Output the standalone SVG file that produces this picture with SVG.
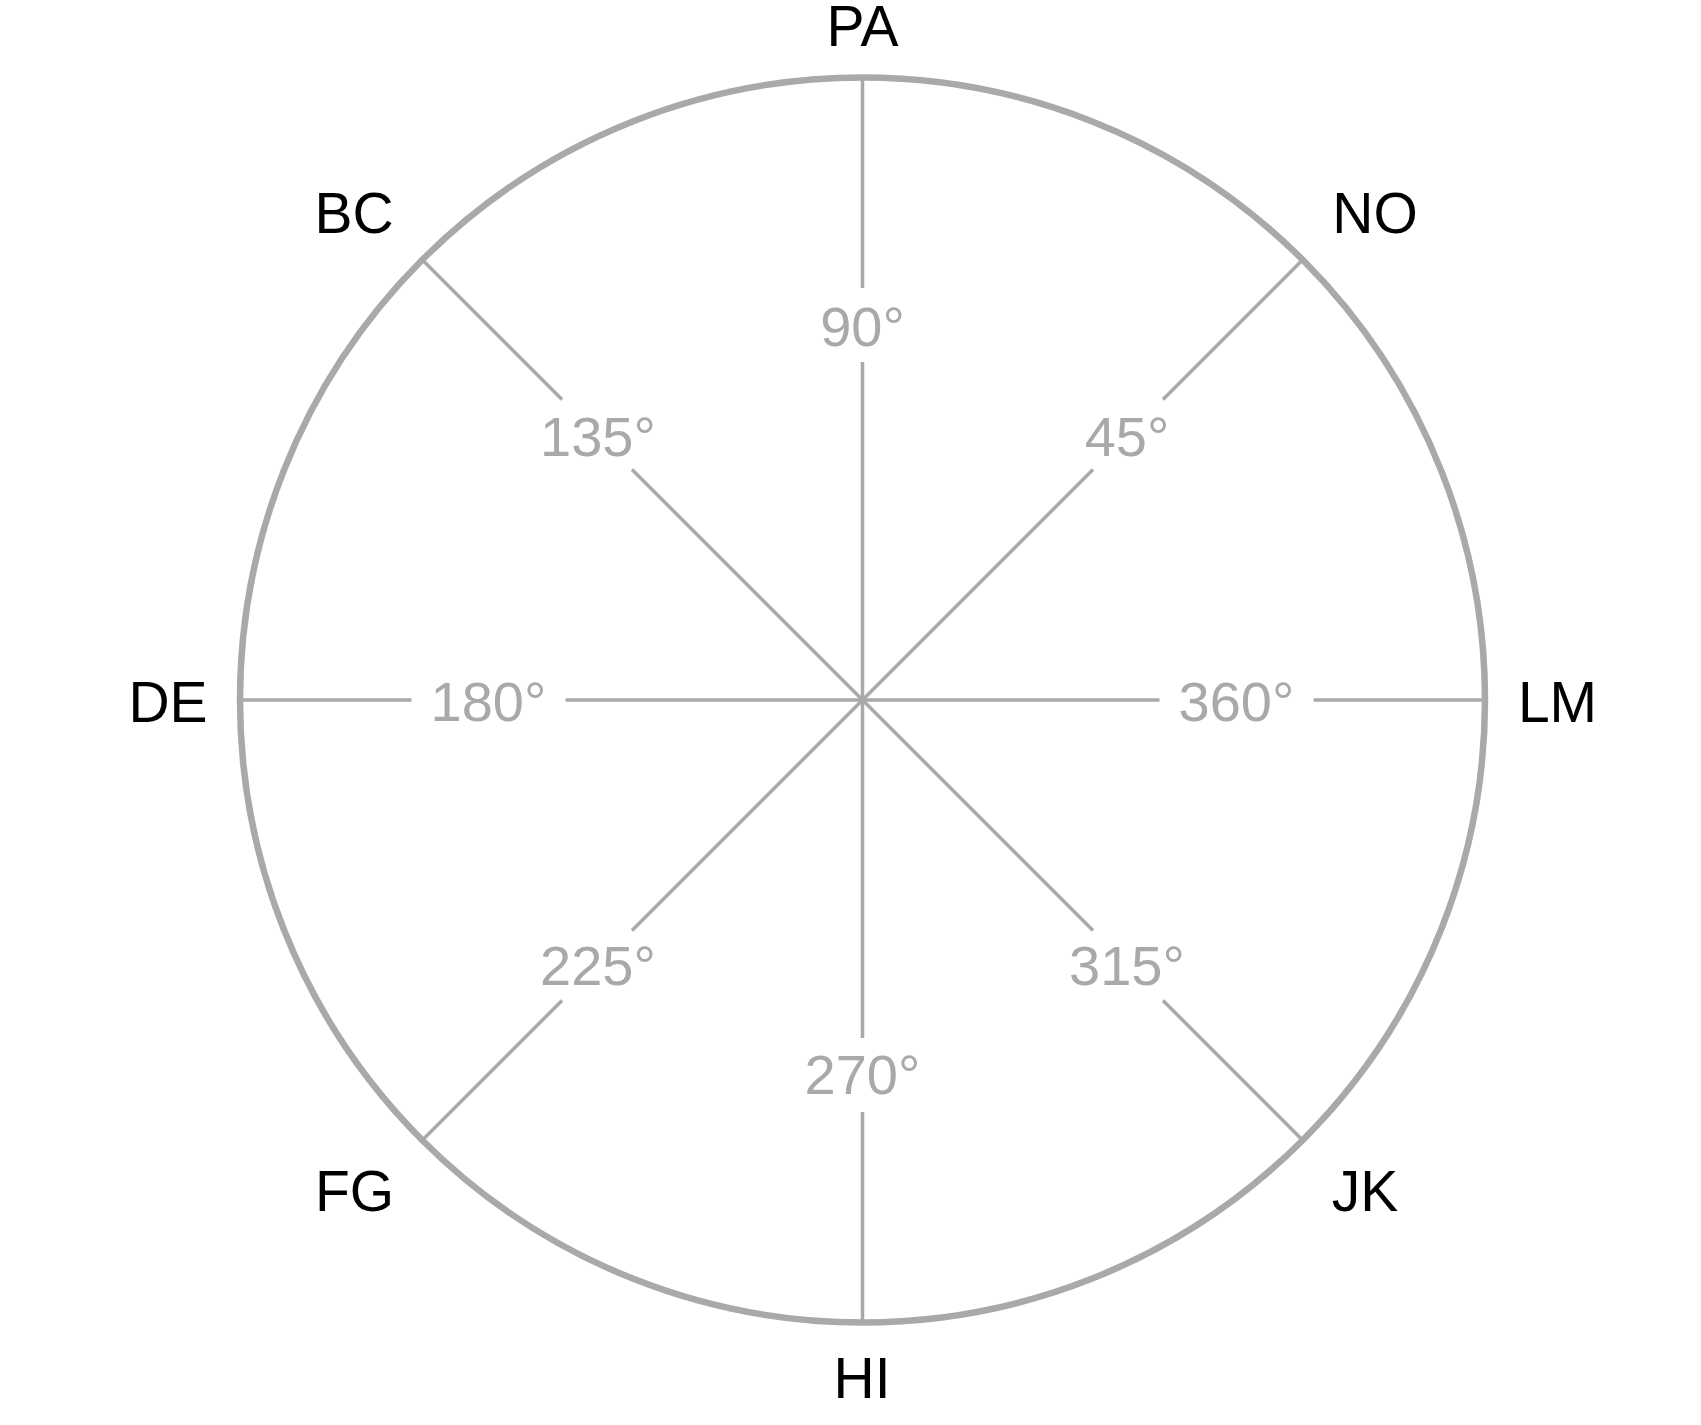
<svg xmlns="http://www.w3.org/2000/svg" width="1701" height="1425" viewBox="0 0 1701 1425">
<style>
.ring{fill:none;stroke:#A9A9A9;stroke-width:6.5}
.spoke{stroke:#A9A9A9;stroke-width:3.5;fill:none}
.lab{font-family:"Liberation Sans",Arial,sans-serif;font-size:57px;fill:#000;text-anchor:middle}
.deg{font-family:"Liberation Sans",Arial,sans-serif;font-size:56px;fill:#A9A9A9;text-anchor:middle}
</style>
<rect width="1701" height="1425" fill="#fff"/>
<g id="ring"><circle class="ring" cx="862.5" cy="700" r="622.5"/></g>
<g id="connectors">
<line class="spoke" x1="862.5" y1="77.5" x2="862.5" y2="288"/>
<line class="spoke" x1="862.5" y1="362" x2="862.5" y2="700"/>
<line class="spoke" x1="862.5" y1="700" x2="862.5" y2="1038"/>
<line class="spoke" x1="862.5" y1="1112" x2="862.5" y2="1322.5"/>
<line class="spoke" x1="240" y1="700" x2="411.5" y2="700"/>
<line class="spoke" x1="565.5" y1="700" x2="862.5" y2="700"/>
<line class="spoke" x1="862.5" y1="700" x2="1159.5" y2="700"/>
<line class="spoke" x1="1313.5" y1="700" x2="1485" y2="700"/>
<line class="spoke" x1="862.5" y1="700" x2="1093" y2="469.5"/>
<line class="spoke" x1="1163" y1="399.5" x2="1302.7" y2="259.8"/>
<line class="spoke" x1="862.5" y1="700" x2="632" y2="469.5"/>
<line class="spoke" x1="562" y1="399.5" x2="422.3" y2="259.8"/>
<line class="spoke" x1="862.5" y1="700" x2="632" y2="930.5"/>
<line class="spoke" x1="562" y1="1000.5" x2="422.3" y2="1140.2"/>
<line class="spoke" x1="862.5" y1="700" x2="1093" y2="930.5"/>
<line class="spoke" x1="1163" y1="1000.5" x2="1302.7" y2="1140.2"/>
</g>
<g id="deg-labels">
<text class="deg" x="862.5" y="346">90°</text>
<text class="deg" x="1127" y="455.5">45°</text>
<text class="deg" x="598" y="455.5">135°</text>
<text class="deg" x="488.5" y="720.5">180°</text>
<text class="deg" x="1236.5" y="720.5">360°</text>
<text class="deg" x="598" y="984.5">225°</text>
<text class="deg" x="1127" y="984.5">315°</text>
<text class="deg" x="862.5" y="1094">270°</text>
</g>
<g id="node-PA"><text class="lab" x="862.5" y="46">PA</text></g>
<g id="node-NO"><text class="lab" x="1375" y="232.7">NO</text></g>
<g id="node-LM"><text class="lab" x="1557.5" y="721.7">LM</text></g>
<g id="node-JK"><text class="lab" x="1365" y="1210.7">JK</text></g>
<g id="node-HI"><text class="lab" x="862" y="1397.7">HI</text></g>
<g id="node-FG"><text class="lab" x="354.5" y="1210.7">FG</text></g>
<g id="node-DE"><text class="lab" x="168" y="721.7">DE</text></g>
<g id="node-BC"><text class="lab" x="354" y="232.7">BC</text></g>
</svg>
